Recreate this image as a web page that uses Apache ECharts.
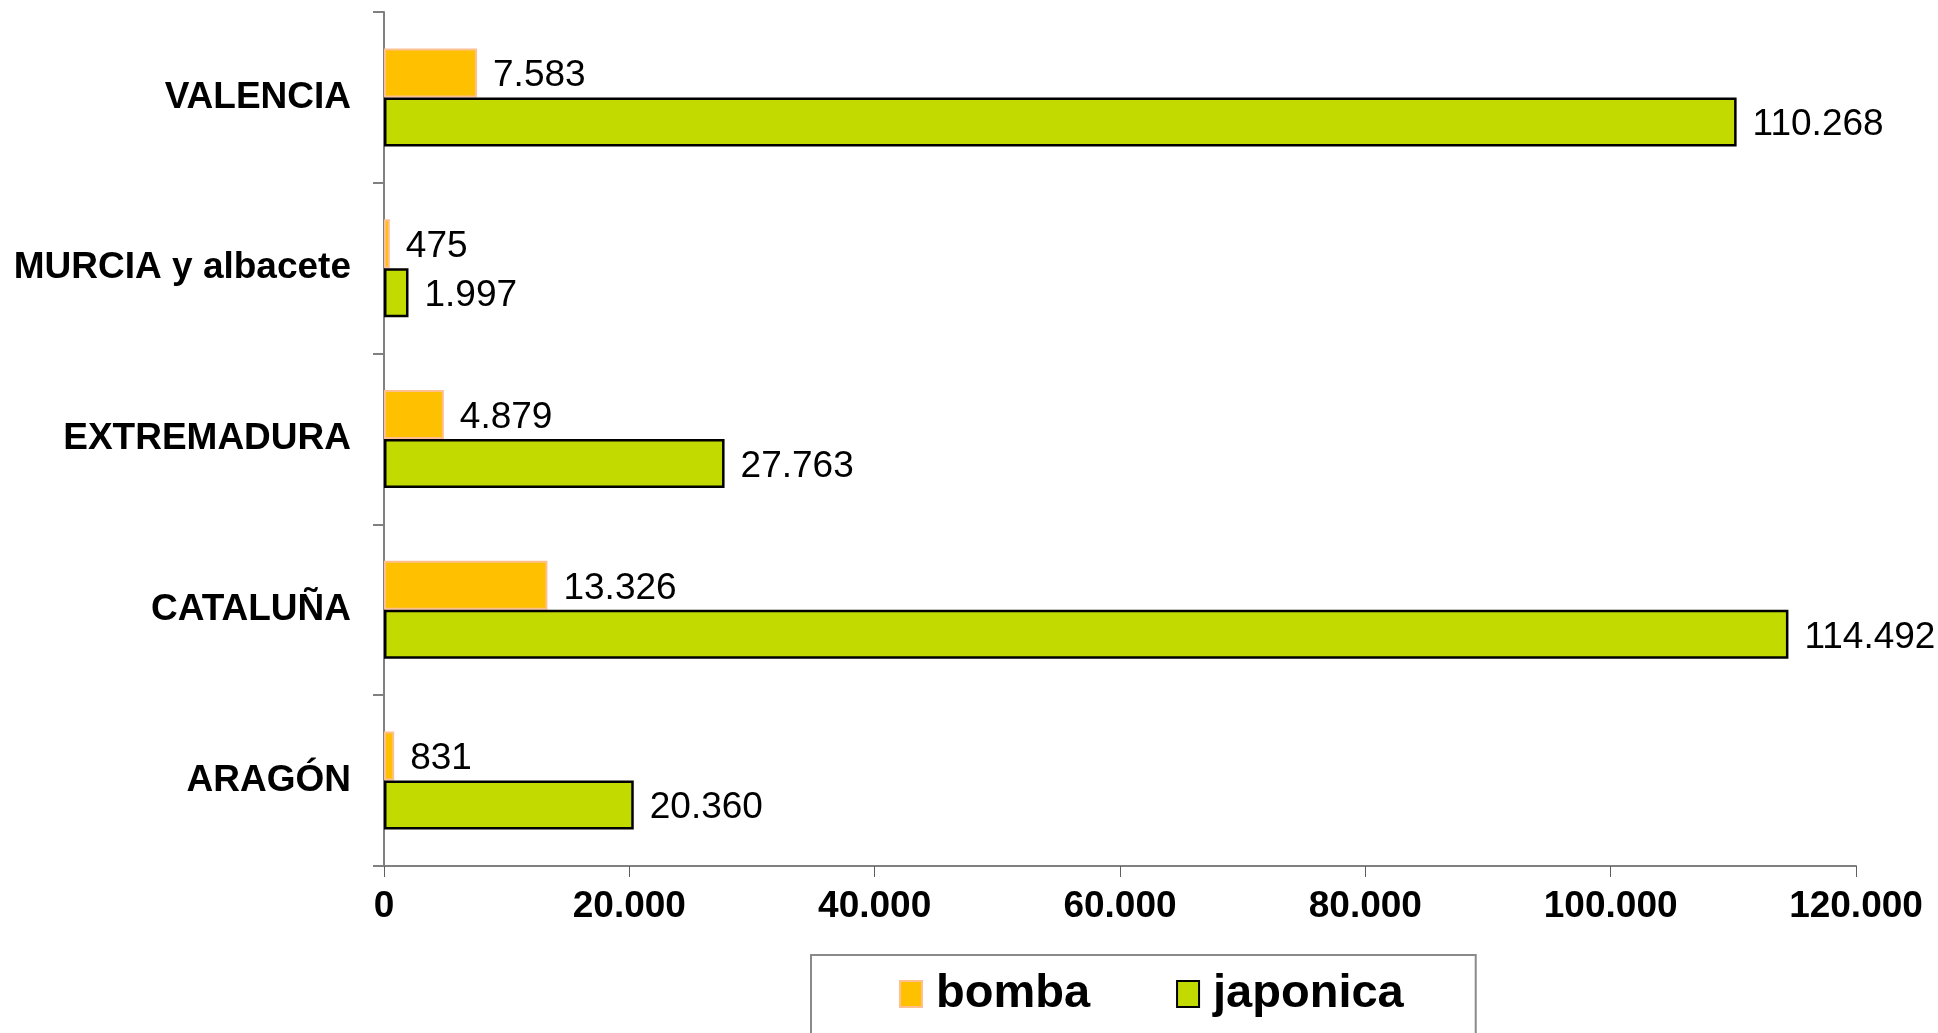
<!DOCTYPE html>
<html>
<head>
<meta charset="utf-8">
<script src="https://cdn.jsdelivr.net/npm/echarts@6/dist/echarts.min.js"></script>
<style>
  html, body { margin: 0; padding: 0; background: #fff; }
  #chart { width: 1938px; height: 1033px; }
</style>
</head>
<body>
<div id="chart"></div>
<script>
// regiones, de arriba abajo
const regions = ["VALENCIA", "MURCIA y albacete", "EXTREMADURA", "CATALUÑA", "ARAGÓN"];
const bomba = [7583, 475, 4879, 13326, 831];
const japonica = [110268, 1997, 27763, 114492, 20360];
const xTicks = [0, 20000, 40000, 60000, 80000, 100000, 120000];

const FONT = "'Liberation Sans', Arial, sans-serif";

// 20000 -> "20.000"
function fmt(v) {
  return String(v).replace(/\B(?=(\d{3})+(?!\d))/g, ".");
}

const labelStyle = {
  show: true,
  position: "right",
  distance: 16,
  offset: [0, 3],
  fontFamily: FONT,
  fontSize: 37,
  color: "#000",
  formatter: p => fmt(p.value)
};

const chart = echarts.init(document.getElementById("chart"));
chart.setOption({
  animation: false,
  grid: { left: 384, right: 82, top: 12, bottom: 167 },
  legend: {
    data: [{ name: "bomba", icon: "rect" }, { name: "japonica", icon: "rect" }],
    top: 955,
    left: 811,
    width: 668,
    padding: [14, 72, 80, 88],
    borderColor: "#8a8a8a",
    borderWidth: 2,
    itemWidth: 22,
    itemHeight: 26,
    itemGap: 86,
    textStyle: {
      fontFamily: FONT,
      fontSize: 47,
      fontWeight: "bold",
      color: "#000",
      lineHeight: 50,
      padding: [0, 0, 0, 9]
    }
  },
  xAxis: {
    type: "value",
    min: xTicks[0],
    max: xTicks[xTicks.length - 1],
    interval: xTicks[1] - xTicks[0],
    splitLine: { show: false },
    axisLine: { show: true, lineStyle: { color: "#808080", width: 2 } },
    axisTick: { show: true, length: 11, lineStyle: { color: "#606060", width: 1 } },
    axisLabel: {
      margin: 22,
      fontFamily: FONT,
      fontSize: 37,
      fontWeight: "bold",
      color: "#000",
      formatter: fmt
    }
  },
  yAxis: {
    type: "category",
    data: regions,
    inverse: true,
    axisLine: { show: true, lineStyle: { color: "#808080", width: 2 } },
    axisTick: { show: true, length: 11, lineStyle: { color: "#808080", width: 2 } },
    axisLabel: {
      margin: 33,
      fontFamily: FONT,
      fontSize: 37,
      fontWeight: "bold",
      color: "#000"
    }
  },
  series: [
    {
      name: "bomba",
      type: "bar",
      data: bomba,
      barWidth: 49,
      barGap: "0%",
      itemStyle: { color: "#FFC000", borderColor: "#FFC090", borderWidth: 2 },
      label: labelStyle
    },
    {
      name: "japonica",
      type: "bar",
      data: japonica,
      barWidth: 49,
      barGap: "0%",
      itemStyle: { color: "#C2DA00", borderColor: "#000", borderWidth: 2.5 },
      label: labelStyle
    }
  ]
});
</script>
</body>
</html>
